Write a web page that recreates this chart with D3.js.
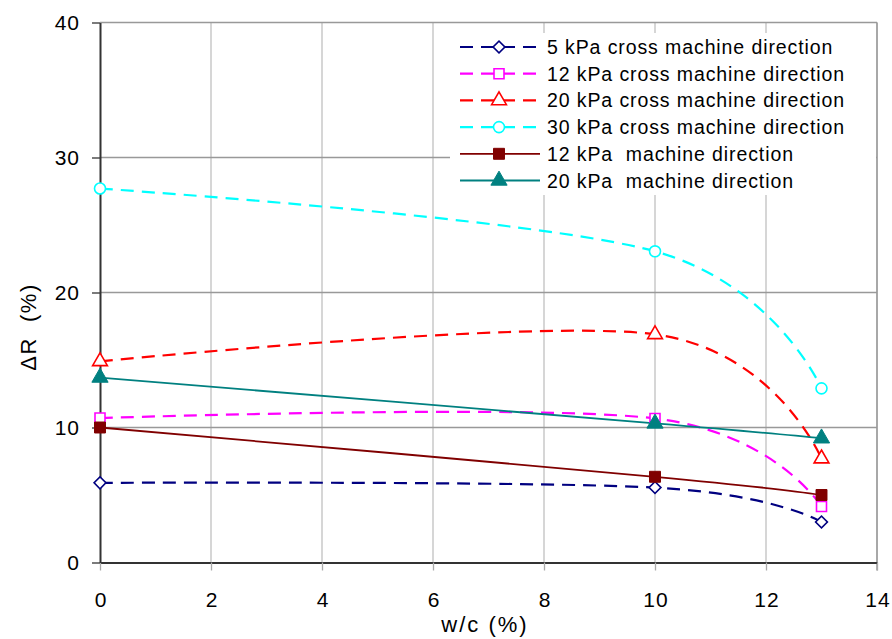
<!DOCTYPE html>
<html>
<head>
<meta charset="utf-8">
<script src="https://cdn.jsdelivr.net/npm/d3@7"></script>
<style>
  html, body { margin: 0; padding: 0; background: #fff; }
  svg { display: block; font-family: "Liberation Sans", Arial, sans-serif; }
</style>
</head>
<body>
<svg id="chart" width="892" height="639"></svg>
<script>
// w/c content (%) at which ΔR was measured
const wc = [0, 10, 13];

// ΔR (%) for each load / direction
const cross5kPa   = [5.9, 5.55, 3.0];
const cross12kPa  = [10.7, 10.67, 4.15];
const cross20kPa  = [14.9, 16.9, 7.7];
const cross30kPa  = [27.7, 23.05, 12.9];
const machine12kPa = [10.0, 6.35, 5.0];
const machine20kPa = [13.7, 10.3, 9.2];

const seriesNames = [
  "5 kPa cross machine direction",
  "12 kPa cross machine direction",
  "20 kPa cross machine direction",
  "30 kPa cross machine direction",
  "12 kPa  machine direction",
  "20 kPa  machine direction"
];

const xTicks = [0, 2, 4, 6, 8, 10, 12, 14];
const yTicks = [0, 10, 20, 30, 40];

const series = [
  { name: seriesNames[0], values: cross5kPa,   color: "#000080", marker: "diamond",  fill: false, dashed: true },
  { name: seriesNames[1], values: cross12kPa,  color: "#FF00FF", marker: "square",   fill: false, dashed: true },
  { name: seriesNames[2], values: cross20kPa,  color: "#FF0000", marker: "triangle", fill: false, dashed: true },
  { name: seriesNames[3], values: cross30kPa,  color: "#00FFFF", marker: "circle",   fill: false, dashed: true },
  { name: seriesNames[4], values: machine12kPa, color: "#800000", marker: "square",  fill: true,  dashed: false },
  { name: seriesNames[5], values: machine20kPa, color: "#008080", marker: "triangle", fill: true, dashed: false }
];

const svg = d3.select("#chart");
const plot = { left: 100, right: 877, top: 22.5, bottom: 562.5 };

const x = d3.scaleLinear().domain([0, 14]).range([plot.left, plot.right]);
const y = d3.scaleLinear().domain([0, 40]).range([plot.bottom, plot.top]);

// vertical gridlines
svg.append("g").selectAll("line").data(xTicks.slice(1)).join("line")
  .attr("x1", d => x(d)).attr("x2", d => x(d))
  .attr("y1", plot.top).attr("y2", plot.bottom)
  .attr("stroke", "#c8c8c8").attr("stroke-width", 1.5);

// horizontal gridlines
svg.append("g").selectAll("line").data(yTicks.slice(1)).join("line")
  .attr("x1", plot.left).attr("x2", plot.right)
  .attr("y1", d => y(d)).attr("y2", d => y(d))
  .attr("stroke", "#999").attr("stroke-width", 1.3);

// right border
svg.append("line")
  .attr("x1", plot.right).attr("x2", plot.right)
  .attr("y1", plot.top).attr("y2", plot.bottom + 8)
  .attr("stroke", "#999").attr("stroke-width", 1.5);

// axes
const xAxis = d3.axisBottom(x).tickValues(xTicks).tickSize(8).tickSizeOuter(0).tickPadding(21.5);
const yAxis = d3.axisLeft(y).tickValues(yTicks).tickSize(8).tickSizeOuter(0).tickPadding(12);

const gx = svg.append("g").attr("transform", `translate(0,${plot.bottom})`).call(xAxis);
const gy = svg.append("g").attr("transform", `translate(${plot.left},0)`).call(yAxis);

[gx, gy].forEach(g => {
  g.select(".domain").attr("stroke", "#333").attr("stroke-width", 2);
  g.selectAll(".tick line").attr("stroke", "#333").attr("stroke-width", 1.3);
  g.selectAll(".tick text").attr("fill", "#000").style("font-size", "21px")
    .style("letter-spacing", "1px")
    .style("font-family", "'Liberation Sans', Arial, sans-serif");
});
gx.selectAll(".tick line").attr("stroke", "#aaa");
gx.selectAll(".tick text").attr("dx", "0.5px");

// axis titles
svg.append("text").attr("x", 485).attr("y", 632).attr("text-anchor", "middle")
  .style("font-size", "22px").style("letter-spacing", "2px").text("w/c (%)");
svg.append("text").attr("transform", "translate(36,327) rotate(-90)")
  .attr("text-anchor", "middle").style("font-size", "22px").style("letter-spacing", "1.5px")
  .style("white-space", "pre")
  .text("ΔR  (%)");

// lines
const line = d3.line()
  .x((d, i) => x(wc[i]))
  .y(d => y(d))
  .curve(d3.curveCatmullRom.alpha(0));

const symbols = {
  diamond: { type: d3.symbolSquare, size: 70, rotate: 45 },
  square: { type: d3.symbolSquare, size: 100, rotate: 0 },
  triangle: { type: d3.symbolTriangle, size: 95, rotate: 0 },
  circle: { type: d3.symbolCircle, size: 95, rotate: 0 }
};

function drawMarker(g, s, cx, cy) {
  const sym = symbols[s.marker];
  const size = s.fill ? sym.size * 1.2 : sym.size;
  g.append("path")
    .attr("d", d3.symbol().type(sym.type).size(size)())
    .attr("transform", `translate(${cx},${cy}) rotate(${sym.rotate})`)
    .attr("fill", s.fill ? s.color : "#fff")
    .attr("stroke", s.color)
    .attr("stroke-width", s.fill ? 1 : 1.6);
}

const lineLayer = svg.append("g");
series.forEach(s => {
  lineLayer.append("path")
    .datum(s.values)
    .attr("d", line)
    .attr("fill", "none")
    .attr("stroke", s.color)
    .attr("stroke-width", s.dashed ? 2.2 : 1.8)
    .attr("stroke-dasharray", s.dashed ? "13,8" : null);
});

// legend (drawn over the grid, before markers)
const legend = svg.append("g");
legend.append("rect").attr("x", 450).attr("y", 33).attr("width", plot.right - 451).attr("height", 162)
  .attr("fill", "#fff");
series.forEach((s, i) => {
  const ly = 47 + i * 26.7;
  legend.append("line")
    .attr("x1", 460).attr("x2", 540).attr("y1", ly).attr("y2", ly)
    .attr("stroke", s.color)
    .attr("stroke-width", s.dashed ? 2.2 : 1.8)
    .attr("stroke-dasharray", s.dashed ? "13,8" : null);
  drawMarker(legend, s, 499, ly);
  legend.append("text").attr("x", 547).attr("y", ly + 7)
    .style("font-size", "19.5px").style("letter-spacing", "0.9px").style("white-space", "pre")
    .text(s.name);
});

// markers
const markerLayer = svg.append("g");
series.forEach(s => {
  s.values.forEach((v, i) => drawMarker(markerLayer, s, x(wc[i]), y(v)));
});
</script>
</body>
</html>
